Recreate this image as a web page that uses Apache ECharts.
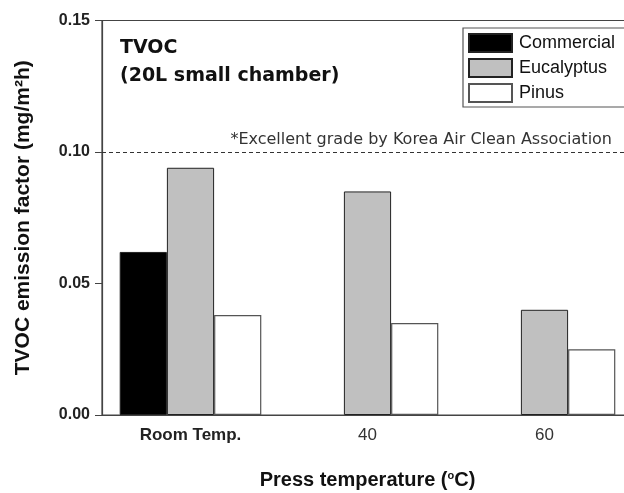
<!DOCTYPE html>
<html>
<head>
<meta charset="utf-8">
<script src="https://cdn.jsdelivr.net/npm/echarts@6/dist/echarts.min.js"></script>
<style>html,body{margin:0;padding:0;background:#fff}#c{width:624px;height:493px}</style>
</head>
<body>
<div id="c"></div>
<script>
const categories = ['Room Temp.', '40', '60'];
const commercial = [0.062, null, null];
const eucalyptus = [0.094, 0.085, 0.040];
const pinus = [0.038, 0.035, 0.025];
const yTicks = [0, 0.05, 0.10, 0.15];
const limitValue = 0.10;
const limitText = '*Excellent grade by Korea Air Clean Association';

const chart = echarts.init(document.getElementById('c'));
const font = 'Liberation Sans, Arial, sans-serif';
chart.setOption({
  animation: false,
  backgroundColor: '#fff',
  grid: { left: 102, top: 20.5, width: 531, bottom: 78, outerBoundsMode: 'none', containLabel: false,
    show: true, borderColor: '#444', borderWidth: 1.2, backgroundColor: 'transparent' },
  legend: {
    orient: 'vertical', left: 463, top: 28,
    icon: 'rect',
    itemWidth: 43, itemHeight: 18, itemGap: 5,
    padding: [5, 12, 4, 5],
    borderColor: '#555', borderWidth: 1.2, backgroundColor: '#fff',
    textStyle: { fontFamily: font, fontSize: 18, color: '#111', padding: [0, 0, 0, 2] },
    data: ['Commercial', 'Eucalyptus', 'Pinus']
  },
  xAxis: {
    type: 'category', data: categories,
    axisLine: { lineStyle: { color: '#444', width: 1.2 } },
    axisTick: { alignWithLabel: true, length: 6, lineStyle: { color: '#444' } },
    axisLabel: {
      margin: 12, fontFamily: font, fontSize: 17, color: '#222',
      formatter: function (v, i) { return i === 0 ? '{b|' + v + '}' : '{n|' + v + '}'; },
      rich: { b: { fontWeight: 'bold', fontSize: 17, fontFamily: font, color: '#222' }, n: { fontSize: 17, fontFamily: font, color: '#333' } }
    },
    name: 'Press temperature ({s|o}C)', nameLocation: 'middle', nameGap: 55,
    nameTextStyle: { fontFamily: font, fontSize: 20, fontWeight: 'bold', color: '#111',
      rich: { s: { fontSize: 11, fontWeight: 'bold', fontFamily: font, color: '#111', verticalAlign: 'top', padding: [0, 0, 9, 0] } } }
  },
  yAxis: {
    type: 'value', min: 0, max: 0.15, interval: 0.05,
    splitLine: { show: false },
    axisLine: { show: true, lineStyle: { color: '#444', width: 1.2 } },
    axisTick: { show: true, length: 7, lineStyle: { color: '#444' } },
    axisLabel: { margin: 12, fontFamily: font, fontSize: 16, fontWeight: 'bold', color: '#222',
      formatter: function (v) { return v.toFixed(2); } },
    name: 'TVOC emission factor (mg/m²h)', nameLocation: 'middle', nameGap: 68,
    nameTextStyle: { fontFamily: font, fontSize: 21, fontWeight: 'bold', color: '#111' }
  },
  series: [
    { name: 'Commercial', type: 'bar', data: commercial, barGap: '0%', barCategoryGap: '20%',
      itemStyle: { color: '#000', borderColor: '#222', borderWidth: 1 } },
    { name: 'Eucalyptus', type: 'bar', data: eucalyptus,
      itemStyle: { color: '#c0c0c0', borderColor: '#222', borderWidth: 1 },
      markLine: { silent: true, symbol: 'none', label: { show: false },
        lineStyle: { color: '#333', type: [4, 3], width: 1.2 },
        data: [{ yAxis: limitValue }] } },
    { name: 'Pinus', type: 'bar', data: pinus,
      itemStyle: { color: '#fff', borderColor: '#555', borderWidth: 1.2 } }
  ],
  graphic: [
    { type: 'text', left: 120, top: 34, style: { text: 'TVOC\n(20L small chamber)', font: 'bold 19px DejaVu Sans, sans-serif', fill: '#111', lineHeight: 28 } },
    { type: 'text', right: 12, top: 132, style: { text: limitText, font: '16px DejaVu Sans, sans-serif', fill: '#333' } }
  ]
});
</script>
</body>
</html>
